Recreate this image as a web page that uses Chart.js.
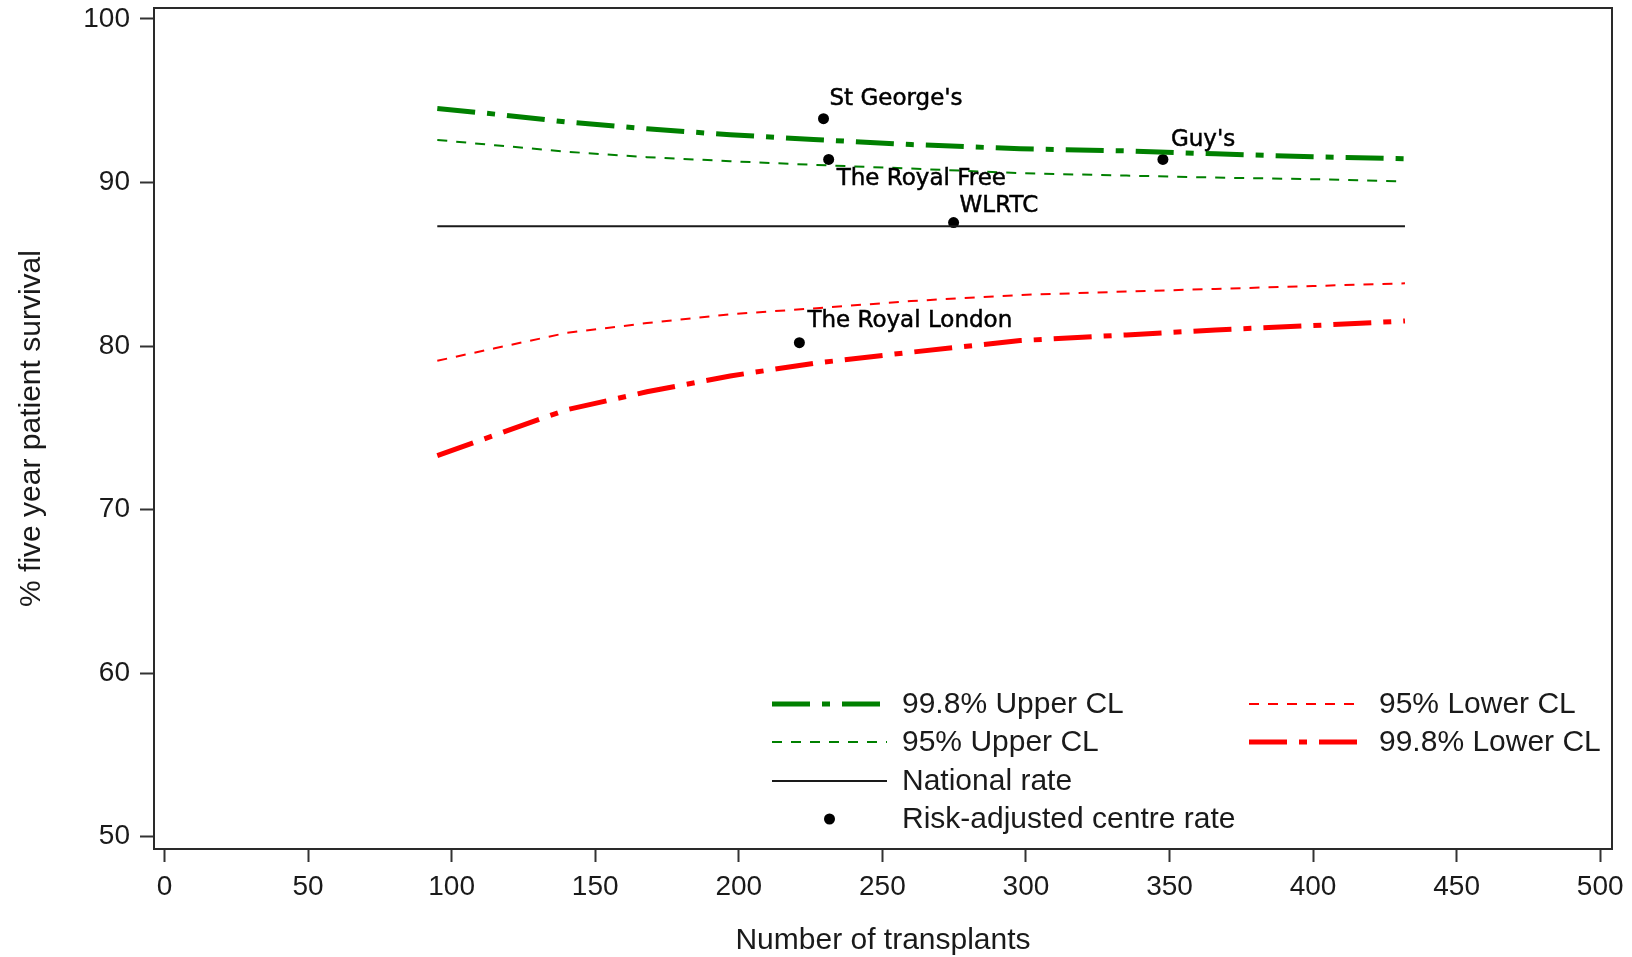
<!DOCTYPE html>
<html>
<head>
<meta charset="utf-8">
<script src="https://cdn.jsdelivr.net/npm/chart.js@4.4.0/dist/chart.umd.min.js"></script>
<style>
  html, body { margin: 0; padding: 0; background: #fff; }
  #wrap { width: 1632px; height: 957px; }
</style>
</head>
<body>
<div id="wrap"><canvas id="chart" width="1632" height="957"></canvas></div>
<script>
// funnel limits
const transplants = [95, 115, 140, 168, 197, 226, 260, 298, 335, 366, 400, 432];
const upper998 = [94.53, 94.18, 93.70, 93.28, 92.92, 92.63, 92.32, 92.06, 91.93, 91.75, 91.57, 91.45];
const upper95 = [92.60, 92.28, 91.88, 91.55, 91.30, 91.08, 90.85, 90.57, 90.42, 90.30, 90.20, 90.07];
const lower95 = [79.10, 79.86, 80.80, 81.40, 81.94, 82.30, 82.75, 83.12, 83.33, 83.49, 83.67, 83.83];
const lower998 = [73.30, 74.55, 76.10, 77.20, 78.17, 78.94, 79.62, 80.33, 80.68, 80.98, 81.25, 81.53];

const nationalX = [95, 432];
const nationalRate = [87.33, 87.33];

const centreNames = ["St George's", "The Royal Free", "Guy's", "WLRTC", "The Royal London"];
const centreTransplants = [229.5, 231.3, 347.7, 274.8, 221.1];
const centreSurvival = [93.90, 91.41, 91.41, 87.55, 80.20];

const xTicks = [0, 50, 100, 150, 200, 250, 300, 350, 400, 450, 500];
const yTicks = [50, 60, 70, 80, 90, 100];

const seriesLabels = ['99.8% Upper CL', '95% Upper CL', 'National rate', 'Risk-adjusted centre rate', '95% Lower CL', '99.8% Lower CL'];

const GREEN = '#008000';
const RED = '#ff0000';
const INK = '#1a1a1a';

function pts(xs, ys) {
    return xs.map((x, i) => ({x: x, y: ys[i]}));
}

// where each centre label sits relative to its dot (dx, baseline dy)
const labelPlacement = [[6, -14], [8, 26], [8, -13], [6, -11], [8, -16]];

const centreLabels = {
    id: 'centreLabels',
    afterDatasetsDraw(chart) {
        const meta = chart.getDatasetMeta(3);
        const ctx = chart.ctx;
        ctx.save();
        ctx.font = '23px "DejaVu Sans"';
        ctx.fillStyle = '#000';
        ctx.strokeStyle = '#000';
        ctx.lineWidth = 0.5;
        ctx.textAlign = 'left';
        ctx.textBaseline = 'alphabetic';
        meta.data.forEach((pt, i) => {
            const p = labelPlacement[i];
            ctx.fillText(centreNames[i], pt.x + p[0], pt.y + p[1]);
            ctx.strokeText(centreNames[i], pt.x + p[0], pt.y + p[1]);
        });
        ctx.restore();
    }
};

const frame = {
    id: 'frame',
    afterDraw(chart) {
        const a = chart.chartArea;
        const ctx = chart.ctx;
        ctx.save();
        ctx.strokeStyle = '#2a2a2a';
        ctx.lineWidth = 2;
        ctx.strokeRect(a.left, a.top, a.right - a.left, a.bottom - a.top);
        ctx.restore();
    }
};

// legend inside the plot, two columns like the original
const legendLayout = [
    {ds: 0, col: 0, row: 0},
    {ds: 1, col: 0, row: 1},
    {ds: 2, col: 0, row: 2},
    {ds: 3, col: 0, row: 3},
    {ds: 4, col: 1, row: 0},
    {ds: 5, col: 1, row: 1}
];
const legendCols = [{x0: 772, x1: 887, tx: 902}, {x0: 1249, x1: 1361, tx: 1379}];
const legendRows = [704, 742, 781, 819];

const insideLegend = {
    id: 'insideLegend',
    afterDraw(chart) {
        const ctx = chart.ctx;
        ctx.save();
        ctx.font = '30px "Liberation Sans", Arial, sans-serif';
        ctx.textBaseline = 'middle';
        ctx.textAlign = 'left';
        legendLayout.forEach(item => {
            const ds = chart.data.datasets[item.ds];
            const c = legendCols[item.col];
            const y = legendRows[item.row];
            if (ds.showLine) {
                ctx.save();
                ctx.strokeStyle = ds.borderColor;
                ctx.lineWidth = ds.borderWidth;
                ctx.setLineDash(ds.borderDash || []);
                ctx.beginPath();
                ctx.moveTo(c.x0, y);
                ctx.lineTo(c.x1, y);
                ctx.stroke();
                ctx.restore();
            } else {
                ctx.beginPath();
                ctx.fillStyle = ds.backgroundColor;
                ctx.arc((c.x0 + c.x1) / 2, y, ds.pointRadius, 0, Math.PI * 2);
                ctx.fill();
            }
            ctx.fillStyle = INK;
            ctx.fillText(ds.label, c.tx, y + 1);
        });
        ctx.restore();
    }
};

Chart.defaults.font.family = '"Liberation Sans", Arial, sans-serif';
Chart.defaults.color = INK;

const dashDot = [38, 12, 8, 12];
const shortDash = [10, 9];

new Chart(document.getElementById('chart'), {
    type: 'scatter',
    data: {
        datasets: [
            {label: seriesLabels[0], data: pts(transplants, upper998), showLine: true, borderColor: GREEN, borderWidth: 5, borderDash: dashDot, pointRadius: 0},
            {label: seriesLabels[1], data: pts(transplants, upper95), showLine: true, borderColor: GREEN, borderWidth: 2, borderDash: shortDash, pointRadius: 0},
            {label: seriesLabels[2], data: pts(nationalX, nationalRate), showLine: true, borderColor: INK, borderWidth: 2, pointRadius: 0},
            {label: seriesLabels[3], data: pts(centreTransplants, centreSurvival), showLine: false, backgroundColor: '#000', borderColor: '#000', borderWidth: 0, pointRadius: 5.5},
            {label: seriesLabels[4], data: pts(transplants, lower95), showLine: true, borderColor: RED, borderWidth: 2, borderDash: shortDash, pointRadius: 0},
            {label: seriesLabels[5], data: pts(transplants, lower998), showLine: true, borderColor: RED, borderWidth: 5, borderDash: dashDot, pointRadius: 0}
        ]
    },
    options: {
        responsive: false,
        animation: false,
        devicePixelRatio: 1,
        layout: {padding: {top: 8, right: 20, bottom: 0, left: 0}},
        plugins: {
            legend: {display: false},
            tooltip: {enabled: false}
        },
        scales: {
            x: {
                type: 'linear',
                min: -3.66,
                max: 504.1,
                afterBuildTicks: scale => { scale.ticks = xTicks.map(v => ({value: v})); },
                afterFit: scale => { scale.height = 108; scale.paddingLeft = 0; scale.paddingRight = 0; },
                border: {display: false},
                grid: {drawOnChartArea: false, drawTicks: true, tickLength: 13, tickColor: '#333', tickWidth: 2},
                ticks: {font: {size: 28}, padding: 8, color: INK, maxRotation: 0},
                title: {display: true, text: 'Number of transplants', font: {size: 30}, color: INK, padding: {top: 0, bottom: -2}}
            },
            y: {
                type: 'linear',
                min: 49.24,
                max: 100.67,
                afterBuildTicks: scale => { scale.ticks = yTicks.map(v => ({value: v})); },
                afterFit: scale => { scale.width = 154; scale.paddingTop = 0; scale.paddingBottom = 0; },
                border: {display: false},
                grid: {drawOnChartArea: false, drawTicks: true, tickLength: 14, tickColor: '#333', tickWidth: 2},
                ticks: {font: {size: 28}, padding: 10, color: INK},
                title: {display: true, text: '% five year patient survival', font: {size: 30}, color: INK, padding: {top: 14, bottom: 0}}
            }
        }
    },
    plugins: [frame, centreLabels, insideLegend]
});
</script>
</body>
</html>
